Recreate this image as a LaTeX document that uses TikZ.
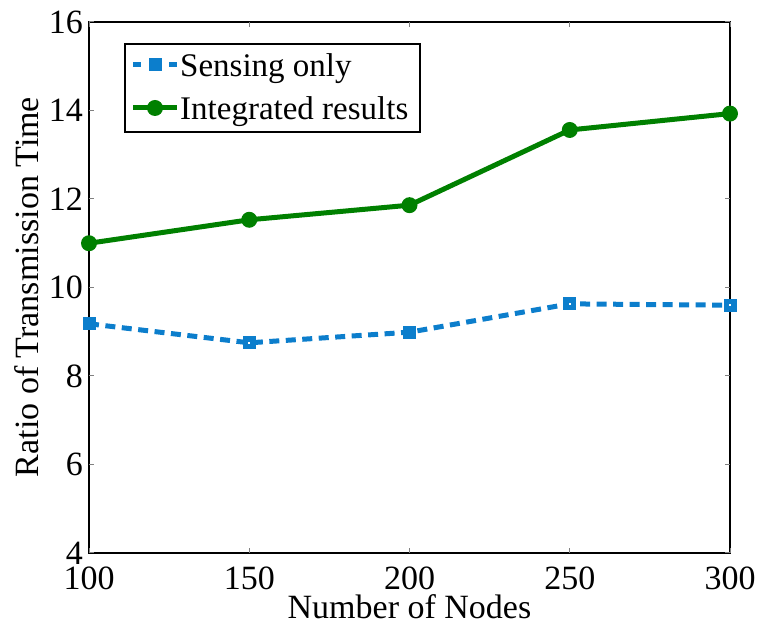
\documentclass[tikz,border=0pt]{standalone}
\usepackage{fontspec}
\setmainfont{Liberation Serif}
\usetikzlibrary{calc}
\definecolor{senseblue}{RGB}{12,126,204}
\definecolor{intgreen}{RGB}{0,128,0}
\tikzset{
  axisframe/.style={draw=black, line width=1.3pt},
  tickmark/.style={draw=black!50, line width=1pt},
  ticklabel/.style={font=\fontsize{34}{40}\selectfont, inner sep=0pt},
  axislabel/.style={font=\fontsize{34}{40}\selectfont, inner sep=0pt},
  senseline/.style={draw=senseblue, line width=5pt, dash pattern=on 10pt off 6.5pt},
  intline/.style={draw=intgreen, line width=5pt},
  sensemark/.style={rectangle, fill=senseblue, minimum size=13pt, inner sep=0pt},
  intmark/.style={circle, fill=intgreen, minimum size=16pt, inner sep=0pt},
  legendtext/.style={font=\fontsize{33}{40}\selectfont, inner sep=0pt, anchor=base west},
}
\begin{document}
\begin{tikzpicture}[x=1pt,y=1pt]
\useasboundingbox (0,0) rectangle (759,623);

% plot frame
\coordinate (ll) at (89,70);
\coordinate (ur) at (730,601);
\draw[axisframe] (ll) rectangle (ur);

% ticks and tick labels
\foreach \v/\lab in {0/100,1/150,2/200,3/250,4/300}{
  \pgfmathsetmacro{\xx}{89+160.25*\v}
  \draw[tickmark] (\xx,70) -- (\xx,75);
  \draw[tickmark] (\xx,601) -- (\xx,596);
  \node[ticklabel] (xt\v) at (\xx,45) {\lab};
}
\foreach \v/\lab in {0/4,1/6,2/8,3/10,4/12,5/14,6/16}{
  \pgfmathsetmacro{\yy}{70+88.5*\v}
  \draw[tickmark] (89,\yy) -- (94,\yy);
  \draw[tickmark] (730,\yy) -- (725,\yy);
  \node[ticklabel, anchor=east] (yt\v) at (83,\yy) {\lab};
}

% axis titles
\node[axislabel] (xtitle) at (409.5,5) [anchor=base] {Number of Nodes};
\node[axislabel, rotate=90] (ytitle) at (27,336) {Ratio of Transmission Time};

% data points
\begin{scope}[shift={(89,70)}, x=3.205pt, y=44.25pt]
  \coordinate (s1) at (0,5.18);
  \coordinate (s2) at (50,4.75);
  \coordinate (s3) at (100,4.99);
  \coordinate (s4) at (150,5.63);
  \coordinate (s5) at (200,5.60);
  \coordinate (g1) at (0,7.00);
  \coordinate (g2) at (50,7.53);
  \coordinate (g3) at (100,7.86);
  \coordinate (g4) at (150,9.56);
  \coordinate (g5) at (200,9.93);
\end{scope}

% series lines
\draw[senseline] (s1) -- (s2) -- (s3) -- (s4) -- (s5);
\draw[intline, line join=round] (g1) -- (g2) -- (g3) -- (g4) -- (g5);

% markers
\foreach \i in {1,...,5}{
  \node[sensemark] (sm\i) at (s\i) {};
  \node[intmark] (gm\i) at (g\i) {};
}
\foreach \i in {2,4,5}{
  \fill[white] ($(s\i)+(-1,-1)$) rectangle ++(2,2);
}

% legend
\draw[draw=black, line width=1.3pt, fill=white] (125,491) rectangle (420,579);
\coordinate (lsa) at (133,558);
\coordinate (lsb) at (141,558);
\coordinate (lsc) at (169,558);
\coordinate (lsd) at (177,558);
\draw[draw=senseblue, line width=5pt] (lsa) -- (lsb);
\draw[draw=senseblue, line width=5pt] (lsc) -- (lsd);
\node[sensemark] (lsm) at (155,558) {};
\coordinate (lga) at (133,515);
\coordinate (lgb) at (177,515);
\draw[intline] (lga) -- (lgb);
\node[intmark] (lgm) at (155,515) {};
\node[legendtext] (lt1) at (180,546) {Sensing only};
\node[legendtext] (lt2) at (180,503) {Integrated results};
\end{tikzpicture}
\end{document}
